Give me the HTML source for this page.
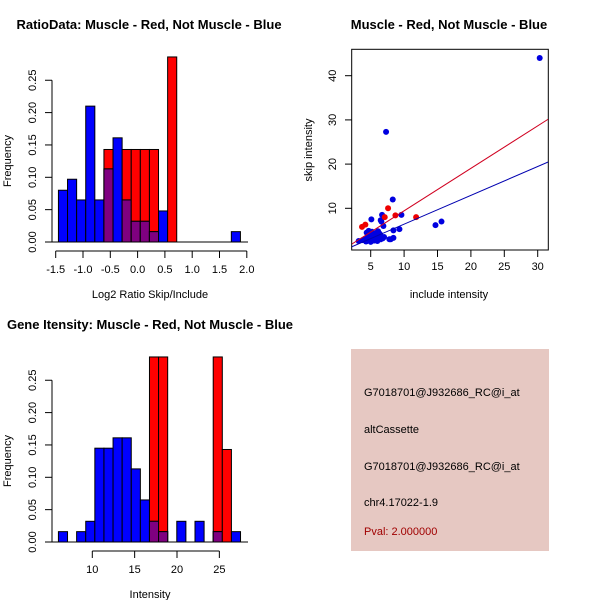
<!DOCTYPE html>
<html><head><meta charset="utf-8"><style>
body{margin:0;background:#fff;width:600px;height:600px;overflow:hidden}
svg{font-family:"Liberation Sans",sans-serif}
</style></head><body>
<svg id="c" width="600" height="600" xmlns="http://www.w3.org/2000/svg">
<rect x="351" y="349" width="198" height="202" fill="#e6c8c2"/>
<text x="364" y="396" font-size="11">G7018701@J932686_RC@i_at</text>
<text x="364" y="433" font-size="11">altCassette</text>
<text x="364" y="470" font-size="11">G7018701@J932686_RC@i_at</text>
<text x="364" y="506" font-size="11">chr4.17022-1.9</text>
<text x="364" y="535" font-size="11" fill="#a00000">Pval: 2.000000</text>
</svg>
<script>
// Histogram 1 data
const h1Start=-1.45, h1Width=1/6;
const h1Blue=[0.08,0.097,0.065,0.21,0.065,0.113,0.161,0.065,0.032,0.032,0.016,0.048,0,0,0,0,0,0,0,0.016];
const h1Red=[0,0,0,0,0,0.143,0,0.143,0.143,0.143,0.143,0,0.286,0,0,0,0,0,0,0];
const h1XTicks=[-1.5,-1.0,-0.5,0.0,0.5,1.0,1.5,2.0];
const yTicks=[0,0.05,0.10,0.15,0.20,0.25];
// Histogram 2 data
const h2Start=6, h2Width=1.075;
const h2Blue=[0.016,0,0.016,0.032,0.145,0.145,0.161,0.161,0.113,0.065,0.032,0.016,0,0.032,0,0.032,0,0.016,0,0.016];
const h2Red=[0,0,0,0,0,0,0,0,0,0,0.286,0.286,0,0,0,0,0,0.286,0.143,0];
const h2XTicks=[10,15,20,25];
// Scatter data
const redX=[3.7,4.2,7.6,8.7,11.8,7.1];
const redY=[5.8,6.3,10,8.4,8,8];
const blueX=[30.3,7.3,8.3,15.6,14.7,9.6,9.3,8.4,8.4,8,7.8,6.7,6.5,6.9,5.1,6.6,3.2,3.8,4.2,4.5,4.8,5.0,5.3,5.6,5.9,6.2,6.5,6.8,4.4,4.9,5.4,5.8,6.1,6.4,4.6,5.2,5.7,6.3,7.0,4.3,5.5,6.0,6.6,5.0,4.7];
const blueY=[44,27.3,12,7,6.2,8.5,5.3,5,3.3,3,3,8.5,7.3,6,7.5,7,2.6,2.8,3,3.2,2.8,3.5,3.1,2.9,3.3,3.6,3.0,3.2,4.5,4.2,4.0,4.4,4.8,4.1,3.8,4.7,3.9,4.3,3.5,2.5,2.7,2.6,3.4,2.4,4.9];
const scXTicks=[5,10,15,20,25,30];
const scYTicks=[10,20,30,40];
const redFit=[-0.18,0.961], blueFit=[-0.11,0.652];

const svg=document.getElementById('c');
const NS='http://www.w3.org/2000/svg';
function el(tag,attrs,parent){const e=document.createElementNS(NS,tag);for(const k in attrs)e.setAttribute(k,attrs[k]);(parent||svg).appendChild(e);return e;}
function txt(x,y,s,size,extra){const e=el('text',Object.assign({x:x,y:y,'font-size':size,'text-anchor':'middle'},extra||{}));e.textContent=s;return e;}

function hist(cfg){
  const xs=v=>cfg.x0px+(v-cfg.x0)*cfg.xscale;
  const ys=v=>cfg.y0px-v*cfg.yscale;
  const g=el('g',{});
  
  
  for(let i=0;i<cfg.blue.length;i++){
    const a=cfg.start+i*cfg.width,b=a+cfg.width;
    const r=cfg.red[i],bl=cfg.blue[i];
    if(r>0){const e=el('rect',{x:xs(a),y:ys(r),width:xs(b)-xs(a),height:ys(0)-ys(r),fill:'#ff0000',stroke:'#000','stroke-width':1},g);
      
      }
    if(bl>0){const e=el('rect',{x:xs(a),y:ys(bl),width:xs(b)-xs(a),height:ys(0)-ys(bl),fill:'#0000ff',stroke:'#000','stroke-width':1},g);
      
      }
    const m=Math.min(r,bl);
    if(m>0){const e=el('rect',{x:xs(a),y:ys(m),width:xs(b)-xs(a),height:ys(0)-ys(m),fill:'#7f0080',stroke:'#000','stroke-width':1},g);
      
      }
  }
  el('line',{x1:52,x2:cfg.axisEnd,y1:ys(0),y2:ys(0),stroke:'#000'},g);
  el('line',{x1:52,x2:52,y1:ys(0),y2:ys(0.25),stroke:'#000'},g);
  yTicks.forEach(t=>{el('line',{x1:45,x2:52,y1:ys(t),y2:ys(t),stroke:'#000'},g);
    const e=txt(36,ys(t),t.toFixed(2),11,{transform:'rotate(-90 36 '+ys(t)+')'});});
  const ay=cfg.y0px+9;
  el('line',{x1:xs(cfg.xt[0]),x2:xs(cfg.xt[cfg.xt.length-1]),y1:ay,y2:ay,stroke:'#000'},g);
  cfg.xt.forEach(t=>{el('line',{x1:xs(t),x2:xs(t),y1:ay,y2:ay+7,stroke:'#000'},g);
    const e=txt(xs(t),ay+22,cfg.fmt(t),11);});
  const t1=txt(cfg.tx,cfg.y0px-213,cfg.title,13,{'font-weight':'bold'});
  const t2=txt(150,cfg.y0px+56,cfg.xlabel,11);
  const yy=cfg.y0px-81;
  const t3=txt(11,yy,'Frequency',11,{transform:'rotate(-90 11 '+yy+')'});
}
hist({name:'ratio-histogram',tx:149,start:h1Start,width:h1Width,blue:h1Blue,red:h1Red,x0:-1.5,x0px:55.7,xscale:54.6,y0px:242,yscale:647,xt:h1XTicks,axisEnd:248,fmt:t=>t.toFixed(1),title:'RatioData: Muscle - Red, Not Muscle - Blue',xlabel:'Log2 Ratio Skip/Include'});
hist({name:'intensity-histogram',tx:150,start:h2Start,width:h2Width,blue:h2Blue,red:h2Red,x0:10,x0px:92.3,xscale:8.47,y0px:542,yscale:647,xt:h2XTicks,axisEnd:248,fmt:t=>String(t),title:'Gene Itensity: Muscle - Red, Not Muscle - Blue',xlabel:'Intensity'});

(function(){
  const sx=v=>337.3+v*6.68, sy=v=>252.5-v*4.42;
  const g=el('g',{});
  
  
  const cp=el('clipPath',{id:'sc'},g);el('rect',{x:352,y:49,width:196,height:201},cp);
  el('rect',{x:351.7,y:49.3,width:196.6,height:200.7,fill:'none',stroke:'#000'},g);
  blueX.forEach((x,i)=>{const e=el('circle',{cx:sx(x),cy:sy(blueY[i]),r:3,fill:'#0000e0'},g);
    
    });
  redX.forEach((x,i)=>{const e=el('circle',{cx:sx(x),cy:sy(redY[i]),r:3,fill:'#ee0000'},g);
    
    });
  const x1=0,x2=35;
  const rl=el('line',{x1:sx(x1),y1:sy(redFit[0]+redFit[1]*x1),x2:sx(x2),y2:sy(redFit[0]+redFit[1]*x2),stroke:'#d00020','clip-path':'url(#sc)'},g);
  
  
  const bl=el('line',{x1:sx(x1),y1:sy(blueFit[0]+blueFit[1]*x1),x2:sx(x2),y2:sy(blueFit[0]+blueFit[1]*x2),stroke:'#0000b0','clip-path':'url(#sc)'},g);
  
  
  scXTicks.forEach(t=>{el('line',{x1:sx(t),x2:sx(t),y1:250,y2:257,stroke:'#000'},g);
    const e=txt(sx(t),270,String(t),11);});
  scYTicks.forEach(t=>{el('line',{x1:345,x2:351.7,y1:sy(t),y2:sy(t),stroke:'#000'},g);
    const e=txt(336,sy(t),String(t),11,{transform:'rotate(-90 336 '+sy(t)+')'});});
  const t1=txt(449,29,'Muscle - Red, Not Muscle - Blue',13,{'font-weight':'bold'});
  const t2=txt(449,298,'include intensity',11);
  const t3=txt(312,150,'skip intensity',11,{transform:'rotate(-90 312 150)'});
})();
</script>
</body></html>
